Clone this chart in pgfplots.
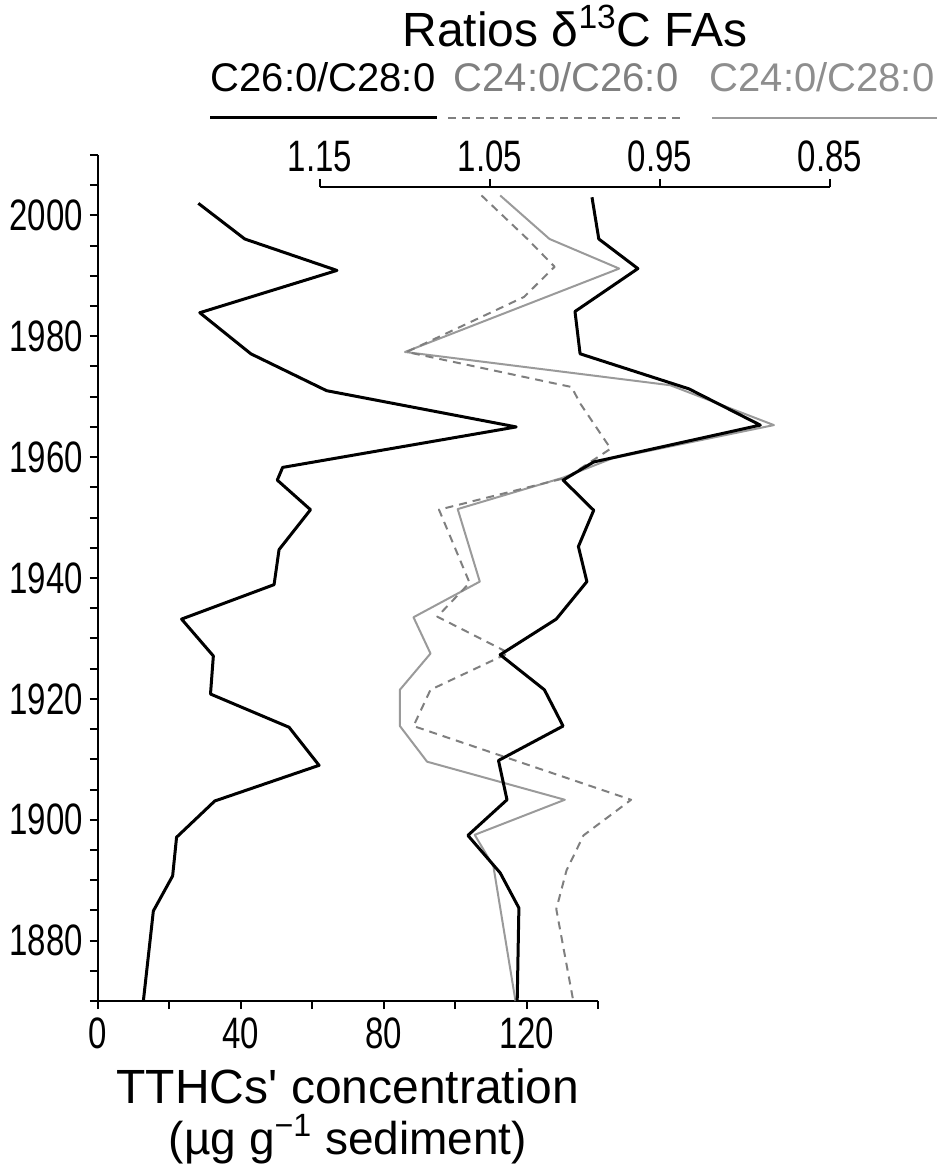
\documentclass[border=0pt]{standalone}
\usepackage{pgfplots}
\pgfplotsset{compat=1.18}
\usepackage{fontspec}
\setmainfont{Liberation Sans}
\newfontfamily\narrowsans{Liberation Sans}[FakeStretch=0.75]
\newfontfamily\plainsans{Liberation Sans}[Ligatures=TeXOff]
\definecolor{gsolid}{HTML}{9A9A9A}
\definecolor{gdash}{HTML}{7F7F7F}
\definecolor{gtxtA}{HTML}{808080}
\definecolor{gtxtB}{HTML}{8E8E8E}
\begin{document}
\begin{tikzpicture}
% TTHC axis
\begin{axis}[
  name=main, at={(0,0)}, anchor=south west, scale only axis,
  width=250pt, height=423pt,
  xmin=0, xmax=140, ymin=1870, ymax=2010,
  axis x line*=bottom, axis y line*=left,
  x axis line style={-, line width=1pt},
  y axis line style={-, line width=1.4pt},
  xtick={0,40,80,120}, minor xtick={20,60,100,140},
  ytick={1880,1900,...,2000}, minor ytick={1870,1875,...,2010},
  tick align=outside, major tick length=4pt, minor tick length=4pt,
  every tick/.style={black, line width=1pt},
  tick label style={font=\narrowsans\fontsize{22}{22}\selectfont},
  /pgf/number format/assume math mode=true,
  /pgf/number format/1000 sep={},
  xticklabel style={yshift=-1pt},
  xlabel={\fontsize{24}{28}\selectfont TTHCs{\plainsans '} concentration\\[4pt]\fontsize{23}{26}\selectfont (µg g\textsuperscript{−1} sediment)},
  xlabel style={align=center, yshift=-3pt},
]
\addplot[black, line width=1.5pt, line join=round] coordinates {
(28.1,2002.0) (41.1,1996.1) (66.9,1990.9) (28.5,1983.9) (42.8,1977.1)
(64.0,1971.0) (117.1,1965.0) (51.7,1958.3) (50.2,1956.2) (59.5,1951.3)
(50.7,1944.7) (49.3,1938.9) (23.4,1933.2) (32.3,1927.1) (31.5,1920.8)
(53.5,1915.3) (61.9,1909.0) (32.7,1903.1) (22.0,1897.1) (20.9,1890.7)
(15.5,1884.9) (12.7,1870.0)};
\end{axis}
% Ratio axis
\begin{axis}[
  at={(111pt,0)}, anchor=south west, scale only axis,
  width=255pt, height=407pt,
  xmin=0.85, xmax=1.15, x dir=reverse, ymin=1870, ymax=2004.7,
  axis x line*=top, axis y line=none,
  x axis line style={-, line width=1pt},
  xtick={0.85,0.95,1.05,1.15},
  tick align=outside, major tick length=4pt,
  every tick/.style={black, line width=1pt},
  tick label style={font=\narrowsans\fontsize{22}{22}\selectfont},
  /pgf/number format/assume math mode=true,
  xticklabel style={/pgf/number format/.cd, fixed, fixed zerofill, precision=2},
  clip=false,
]
\addplot[gsolid, line width=1pt, line join=round] coordinates {
(1.044,2003.3) (1.015,1996.1) (0.974,1991.2) (1.100,1977.4) (0.944,1971.9)
(0.883,1965.3) (0.978,1959.8) (1.007,1956.6) (1.069,1951.4) (1.056,1939.4)
(1.095,1933.5) (1.085,1927.5) (1.103,1921.5) (1.103,1915.5) (1.087,1909.6)
(1.006,1903.3) (1.059,1897.5) (1.048,1892.3) (1.035,1870.0)};
\addplot[gdash, line width=1pt, dash pattern=on 4pt off 3pt, line join=round] coordinates {
(1.055,2003.3) (1.028,1996.1) (1.012,1991.5) (1.030,1986.5) (1.099,1977.4)
(1.002,1971.6) (0.997,1968.9) (0.979,1961.4) (1.005,1956.6) (1.080,1951.3)
(1.062,1939.2) (1.081,1933.6) (1.039,1927.6) (1.085,1921.5) (1.095,1915.5)
(0.967,1903.3) (0.995,1897.4) (1.005,1891.6) (1.011,1885.2) (1.001,1870.0)};
\addplot[black, line width=1.5pt, line join=round] coordinates {
(0.990,2003.0) (0.986,1996.1) (0.963,1991.2) (1.000,1984.1) (0.997,1977.1)
(0.933,1971.3) (0.891,1965.3) (0.989,1959.2) (1.007,1956.2) (0.989,1951.2)
(0.998,1945.2) (0.993,1939.4) (1.011,1933.2) (1.044,1927.3) (1.018,1921.5)
(1.007,1915.5) (1.045,1909.8) (1.040,1903.3) (1.063,1897.4) (1.044,1891.2)
(1.033,1885.4) (1.034,1870.0)};
\end{axis}
% Title and legend
\node[font=\fontsize{24}{28}\selectfont, inner sep=0pt] at (238.5pt,487.5pt) {Ratios δ\textsuperscript{13}C FAs};
\node[font=\fontsize{20}{24}\selectfont, text=black] at (112.5pt,462pt) {C26:0/C28:0};
\node[font=\fontsize{20}{24}\selectfont, text=gtxtA] at (234pt,462pt) {C24:0/C26:0};
\node[font=\fontsize{20}{24}\selectfont, text=gtxtB] at (362pt,462pt) {C24:0/C28:0};
\draw[black, line width=1.5pt] (56pt,441.5pt) -- (169.5pt,441.5pt);
\draw[gdash, line width=1pt, dash pattern=on 4pt off 3pt] (175pt,441.5pt) -- (291pt,441.5pt);
\draw[gsolid, line width=1pt] (307pt,441.5pt) -- (419.5pt,441.5pt);
\pgfresetboundingbox
\path (-49pt,-83.5pt) rectangle (421pt,500.5pt);
\end{tikzpicture}
\end{document}
